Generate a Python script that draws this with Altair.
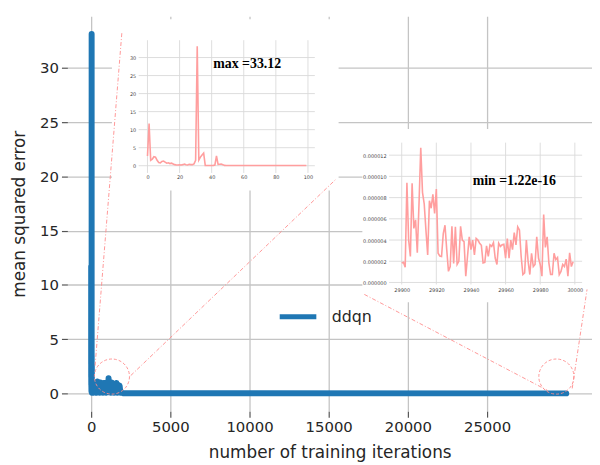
import altair as alt
import pandas as pd

# ---------------- data ----------------
first_iters = list(range(0, 100))
first_mse = [2.7, 11.7, 1.5, 1.8, 2.5, 2.4, 1.5, 0.9, 0.8, 1.2,
             1.3, 1.0, 0.7, 0.8, 0.6, 0.7, 0.5, 0.3, 0.2, 0.2,
             0.25, 0.2, 0.3, 0.45, 0.25, 0.2, 0.4, 0.3, 0.3, 0.5,
             1.5, 33.12, 1.6, 2.4, 3.0, 3.5, 0.1, 0.08, 0.07, 0.08,
             0.07, 0.1, 0.2, 2.7, 0.35, 0.4, 0.45, 0.3, 0.1, 0.08,
             0.07, 0.06, 0.07, 0.06, 0.05, 0.06, 0.05, 0.06, 0.05, 0.05,
             0.06, 0.05, 0.05, 0.06, 0.05, 0.05, 0.05, 0.06, 0.05, 0.05,
             0.05, 0.05, 0.06, 0.05, 0.05, 0.05, 0.05, 0.05, 0.06, 0.05,
             0.05, 0.05, 0.05, 0.05, 0.05, 0.06, 0.05, 0.05, 0.05, 0.05,
             0.05, 0.05, 0.05, 0.05, 0.05, 0.05, 0.05, 0.05, 0.05, 0.05]

mid_iters = [100, 150, 200, 250, 300, 350, 400, 450, 500, 550,
             600, 650, 700, 750, 800, 850, 900, 950, 1000, 1050,
             1100, 1150, 1200, 1250, 1300, 1350, 1400, 1450, 1500, 1550,
             1600, 1650, 1700, 1750, 1800, 1850, 1900, 2000, 2500]
mid_mse = [0.9, 0.05, 1.0, 0.1, 0.8, 0.05, 1.1, 0.1, 0.9, 0.05,
           1.0, 0.1, 0.85, 0.05, 0.95, 0.1, 0.9, 0.05, 1.0, 0.1,
           1.4, 0.1, 0.9, 0.05, 1.0, 0.1, 0.85, 0.05, 0.9, 0.1,
           0.95, 0.05, 0.8, 0.1, 0.7, 0.05, 0.1, 0.02, 0.01]

last_iters = list(range(29900, 30000))
last_mse_e6 = [1.83, 1.9, 1.43, 9.4, 4.0, 2.45, 9.35, 5.1, 5.9, 2.8,
               7.5, 12.7, 8.5, 7.4, 4.9, 2.6, 7.7, 7.0, 8.3, 6.5,
               8.8, 2.75, 2.5, 2.45, 4.6, 5.4, 3.1, 1.05, 1.5, 5.3,
               1.8, 5.25, 1.7, 2.0, 5.3, 4.0, 3.85, 0.6, 2.45, 4.3,
               3.1, 4.0, 2.6, 4.15, 4.0, 3.7, 3.5, 1.85, 1.9, 3.45,
               2.45, 3.55, 3.4, 3.75, 2.3, 1.7, 3.7, 3.4, 3.55, 3.6,
               2.3, 4.15, 2.3, 4.0, 3.1, 4.7, 3.55, 5.25, 4.95, 2.45,
               0.75, 0.9, 4.0, 2.0, 0.75, 2.75, 1.5, 1.7, 4.3, 2.3,
               1.7, 0.6, 6.4, 3.3, 4.3, 1.85, 0.75, 0.75, 2.75, 2.15,
               2.35, 0.75, 1.05, 1.7, 1.5, 2.2, 0.6, 2.8, 1.5, 1.95]
last_mse = [v * 1e-6 for v in last_mse_e6]

series_name = "ddqn"
x_title = "number of training iterations"
y_title = "mean squared error"
main_xticks = [0, 5000, 10000, 15000, 20000, 25000]
main_yticks = [0, 5, 10, 15, 20, 25, 30]
in1_xticks = [0, 20, 40, 60, 80, 100]
in1_yticks = [0, 5, 10, 15, 20, 25, 30]
in2_xticks = [29900, 29920, 29940, 29960, 29980, 30000]
in2_yticks = [0, 2e-6, 4e-6, 6e-6, 8e-6, 10e-6, 12e-6]
max_label = "max =33.12"
min_label = "min =1.22e-16"

# annotation geometry (main data coordinates)
circle_x = [1312, 29375]
circle_y = [1.55, 1.55]
link_x = [250, 2500, 17250, 30375]
link_y = [2.555, 1.642, 9.124, 0.456]
link_x2 = [1937, 15500, 28812, 31312]
link_y2 = [33.21, 19.80, 0.274, 9.58]
box_x = [1312, 17125]
box_x2 = [15625, 31625]
box_y = [34.49, 24.36]
box_y2 = [18.70, 8.39]

# ---------------- style ----------------
FONT = "DejaVu Sans"
TXT = "#262626"
GRID = "#c4c4c4"
IGRID = "#dadada"
BLUE = "#1f77b4"
PINK = "#ff9e9e"
LINK = "#ff8c8c"

W, H = 530, 399


def main_x():
    return alt.Scale(domain=[-1500, 31625], nice=False, zero=False)


def main_y():
    return alt.Scale(domain=[-1.642, 34.763], nice=False, zero=False)


IN1_XDOM = [-5.5, 104.3]
IN1_YDOM = [-2.0, 34.8]
IN2_XDOM = [29892.7, 30004.2]
IN2_YDOM = [-0.19e-6, 13.18e-6]


def in1_x():
    return alt.Scale(domain=IN1_XDOM, range=[72, 250], nice=False, zero=False)


def in1_y():
    return alt.Scale(domain=IN1_YDOM, range=[158.3, 24.2], nice=False, zero=False)


def in2_x():
    return alt.Scale(domain=IN2_XDOM, range=[325, 520], nice=False, zero=False)


def in2_y():
    return alt.Scale(domain=IN2_YDOM, range=[271, 127.7], nice=False, zero=False)


main_df = pd.DataFrame({
    "iteration": first_iters + mid_iters + last_iters,
    "mse": first_mse + mid_mse + last_mse,
    "series": series_name,
})
in1_df = pd.DataFrame({"iteration": first_iters, "mse": first_mse})
in2_df = pd.DataFrame({"iteration": last_iters, "mse": last_mse})

main_axis_common = dict(
    grid=True, gridColor=GRID, gridWidth=1.3, domain=False,
    ticks=True, tickColor="#555555", tickSize=6, tickWidth=1.2,
    labelFont=FONT, labelFontSize=15, labelColor=TXT,
    titleFont=FONT, titleFontSize=17, titleFontWeight="normal", titleColor=TXT,
)

main_line = alt.Chart(main_df).mark_line(
    strokeWidth=6, strokeJoin="round", strokeCap="round"
).encode(
    x=alt.X("iteration:Q", scale=main_x(),
            axis=alt.Axis(values=main_xticks, format="d", title=x_title, orient="bottom",
                          labelPadding=3, titlePadding=10, labelFlush=False,
                          **main_axis_common)),
    y=alt.Y("mse:Q", scale=main_y(),
            axis=alt.Axis(values=main_yticks, format="d", title=y_title, orient="left",
                          labelPadding=3, titlePadding=11, **main_axis_common)),
    color=alt.Color("series:N",
                    scale=alt.Scale(domain=[series_name], range=[BLUE]),
                    legend=alt.Legend(title=None, orient="none", legendX=212, legendY=282.5,
                                      symbolType="stroke", symbolSize=1369,
                                      symbolStrokeWidth=5, labelFont=FONT,
                                      labelFontSize=16, labelColor=TXT,
                                      labelOffset=13, padding=0)),
)

boxes = alt.Chart(pd.DataFrame({"x": box_x, "x2": box_x2, "y": box_y, "y2": box_y2})).mark_rect(
    color="white"
).encode(
    x=alt.X("x:Q", scale=main_x(), axis=None), x2="x2:Q",
    y=alt.Y("y:Q", scale=main_y(), axis=None), y2="y2:Q",
)


def inset_axis(values, orient, offset, pad, fmt):
    return alt.Axis(values=values, orient=orient, offset=offset, grid=False,
                    ticks=False, tickSize=0, domain=False, labelFont=FONT,
                    labelFontSize=5, labelColor="#444444", labelPadding=pad,
                    title=None, labelFlush=False, format=fmt, zindex=1)


def inset_layers(df, xs, ys, xdom, ydom, xticks, yticks, xoff, yoff, xpad, ypad, yfmt, label, lx, ly):
    vgrid = alt.Chart(pd.DataFrame({"t": xticks, "a": ydom[0], "b": ydom[1]})).mark_rule(
        color=IGRID, strokeWidth=0.9
    ).encode(
        x=alt.X("t:Q", scale=xs(), axis=None),
        y=alt.Y("a:Q", scale=ys(), axis=None), y2="b:Q",
    )
    hgrid = alt.Chart(pd.DataFrame({"t": yticks, "a": xdom[0], "b": xdom[1]})).mark_rule(
        color=IGRID, strokeWidth=0.9
    ).encode(
        y=alt.Y("t:Q", scale=ys(), axis=None),
        x=alt.X("a:Q", scale=xs(), axis=None), x2="b:Q",
    )
    line = alt.Chart(df).mark_line(color=PINK, strokeWidth=1.6).encode(
        x=alt.X("iteration:Q", scale=xs(), axis=inset_axis(xticks, "bottom", xoff, xpad, "d")),
        y=alt.Y("mse:Q", scale=ys(), axis=inset_axis(yticks, "left", yoff, ypad, yfmt)),
    )
    txt = alt.Chart(pd.DataFrame({"label": [label], "lx": [lx], "ly": [ly]})).mark_text(
        font="Liberation Serif", fontWeight="bold", fontSize=14, align="left",
        baseline="alphabetic", color="black"
    ).encode(
        x=alt.X("lx:Q", scale=xs(), axis=None),
        y=alt.Y("ly:Q", scale=ys(), axis=None),
        text="label:N",
    )
    return [vgrid, hgrid, line, txt]


in1 = inset_layers(in1_df, in1_x, in1_y, IN1_XDOM, IN1_YDOM, in1_xticks, in1_yticks,
                   158.3 - H, -72, 2, 3, "d", max_label, 41, 27)
in2 = inset_layers(in2_df, in2_x, in2_y, IN2_XDOM, IN2_YDOM, in2_xticks, in2_yticks,
                   271 - H, -325, 3.5, 3, ".6f", min_label, 29941, 9.2e-6)

circles = alt.Chart(pd.DataFrame({"x": circle_x, "y": circle_y})).mark_point(
    shape="circle", size=1257, filled=False, stroke=LINK, strokeWidth=1,
    strokeDash=[3, 2], opacity=0.9
).encode(
    x=alt.X("x:Q", scale=main_x(), axis=None),
    y=alt.Y("y:Q", scale=main_y(), axis=None),
)
links = alt.Chart(pd.DataFrame({"x": link_x, "y": link_y, "x2": link_x2, "y2": link_y2})).mark_rule(
    stroke=LINK, strokeWidth=1, strokeDash=[4, 2, 1, 2], opacity=0.9
).encode(
    x=alt.X("x:Q", scale=main_x(), axis=None), x2="x2:Q",
    y=alt.Y("y:Q", scale=main_y(), axis=None), y2="y2:Q",
)

layers = [main_line, boxes] + in1 + in2 + [circles, links]

chart = alt.layer(*layers).resolve_scale(
    x="independent", y="independent"
).properties(
    width=W, height=H,
    padding={"left": 60, "top": 6, "right": 0, "bottom": 50},
    autosize=alt.AutoSizeParams(type="none"),
    background="white",
).configure_view(stroke=None)

chart.save("out.html", embed_options={"renderer": "svg", "actions": False})
